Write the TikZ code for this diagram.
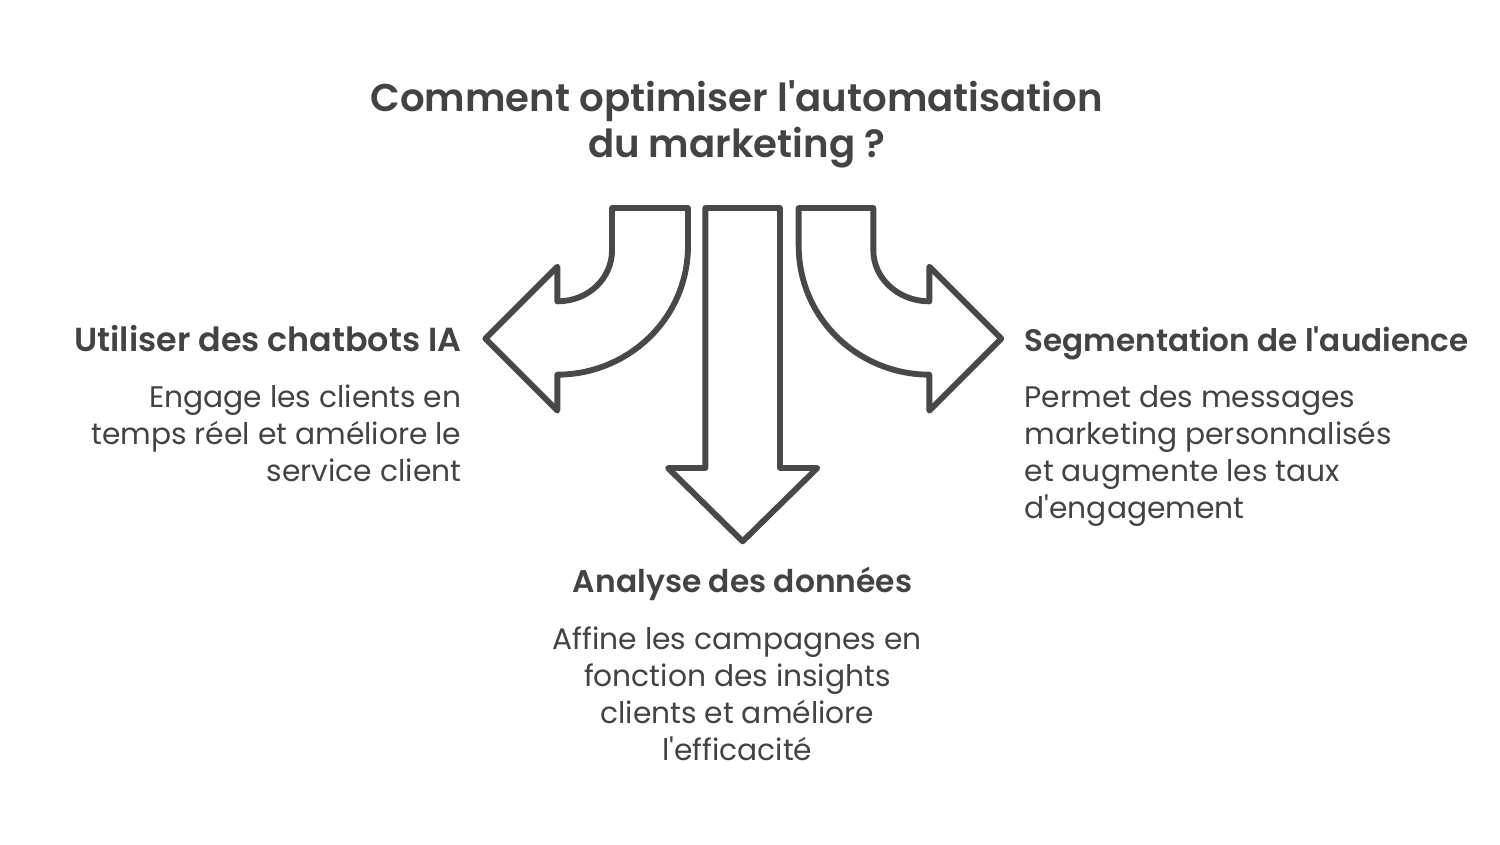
\documentclass[tikz,border=0pt]{standalone}
\usepackage{fontspec}
\setmainfont{Poppins}
\newfontfamily\headfont{Poppins SemiBold}
\newfontfamily\bodyfont{Poppins}
\definecolor{ink}{HTML}{434343}
\definecolor{stroke}{HTML}{484848}
\tikzset{
  arrowshape/.style={draw=stroke,line width=4.4pt,line join=round,fill=white},
  titletext/.style={text=ink,font=\headfont\fontsize{29}{34.5}\selectfont,align=center},
  headtext/.style={text=ink,font=\headfont\fontsize{#1}{27}\selectfont,anchor=base},
  bodytext/.style={text=ink,font=\bodyfont\fontsize{22.3}{27.75}\selectfont}
}
\begin{document}
\begin{tikzpicture}[x=1pt,y=-1pt,every node/.style={inner sep=0pt,outer sep=0pt}]
\useasboundingbox (0,0) rectangle (1125,633);
\fill[white] (0,0) rectangle (1125,633);
\node[titletext,anchor=center] (title) at (552.5,93) {Comment optimiser l'automatisation\\du marketing ?};
\draw[arrowshape] (459,156) -- (516,156) -- (516,184) .. controls (516,240) and (470,281) .. (418,281) -- (418,308) -- (364,254) -- (418,200) -- (418,226) .. controls (442,226) and (459,208) .. (459,188) -- cycle;
\draw[arrowshape] (529,156) -- (585,156) -- (585,351) -- (613,351) -- (557,406) -- (501,351) -- (529,351) -- cycle;
\draw[arrowshape] (655,156) -- (599,156) -- (599,184) .. controls (599,240) and (645,281) .. (697,281) -- (697,308) -- (751,254) -- (697,200) -- (697,226) .. controls (673,226) and (655,208) .. (655,188) -- cycle;
\node[headtext=25,anchor=base east] (h1) at (346,263.5) {Utiliser des chatbots IA};
\node[bodytext,anchor=north east,align=right] (b1) at (346,289) {Engage les clients en\\temps réel et améliore le\\service client};
\node[headtext=23.3,anchor=base west] (h3) at (768.5,263.5) {Segmentation de l'audience};
\node[bodytext,anchor=north west,align=left] (b3) at (768.5,289) {Permet des messages\\marketing personnalisés\\et augmente les taux\\d'engagement};
\node[headtext=23.5,anchor=base] (h2) at (557,444.5) {Analyse des données};
\node[bodytext,anchor=north,align=center] (b2) at (553,470) {Affine les campagnes en\\fonction des insights\\clients et améliore\\l'efficacité};
\end{tikzpicture}
\end{document}
